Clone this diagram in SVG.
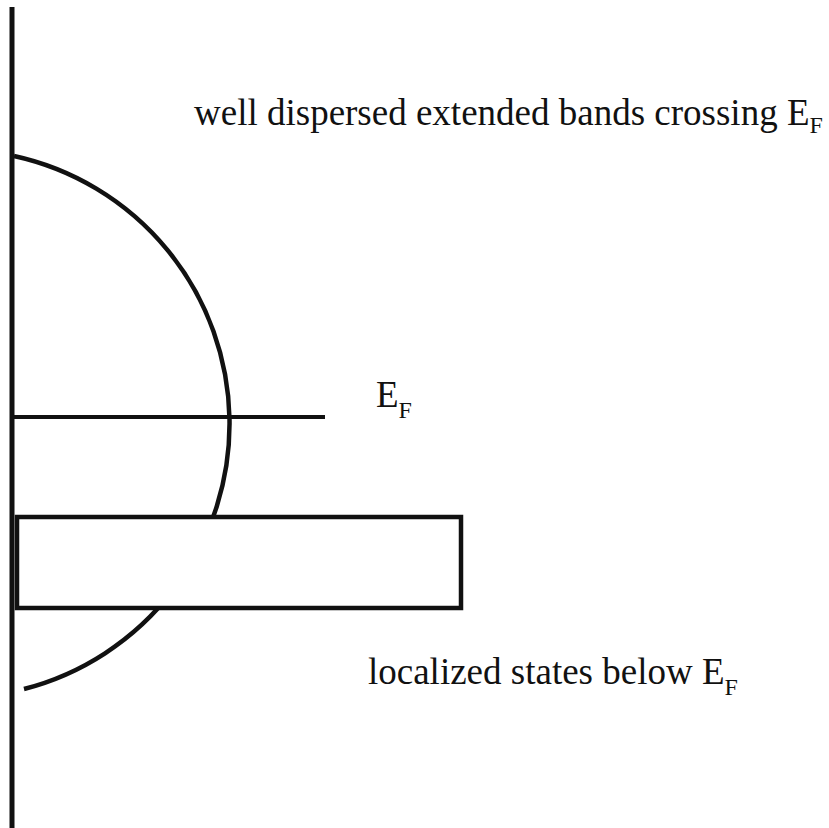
<svg xmlns="http://www.w3.org/2000/svg" width="829" height="828" viewBox="0 0 829 828">
<style>
.ln{stroke:#111;fill:none;stroke-linecap:butt}
.lbl{font-family:"Liberation Serif","Times New Roman",serif;font-size:37px;fill:#111}
.sub{font-size:24px}
</style>
<rect width="829" height="828" fill="#fff"/>
<g id="axis"><line class="ln" x1="12" y1="7" x2="12" y2="828" stroke-width="5"/></g>
<g id="extended-band"><path class="ln" d="M14,156 A274,274 0 0 1 24,689" stroke-width="4.5"/></g>
<g id="fermi-level"><line class="ln" x1="14" y1="417" x2="325" y2="417" stroke-width="4"/></g>
<g id="localized-band"><rect x="17" y="517" width="444" height="91" fill="#fff" stroke="#111" stroke-width="4.5"/></g>
<g id="label-extended"><text class="lbl" x="194" y="125">well dispersed extended bands crossing E<tspan class="sub" dy="8">F</tspan></text></g>
<g id="label-ef"><text class="lbl" x="376" y="407">E<tspan class="sub" dy="11">F</tspan></text></g>
<g id="label-localized"><text class="lbl" x="368" y="684">localized states below E<tspan class="sub" dy="11">F</tspan></text></g>
</svg>
